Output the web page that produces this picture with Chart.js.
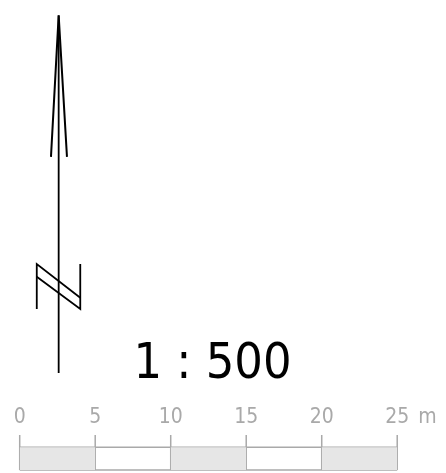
<!DOCTYPE html>
<html>
<head>
<meta charset="utf-8">
<script src="https://cdn.jsdelivr.net/npm/chart.js@4"></script>
<style>
  html, body { margin: 0; padding: 0; background: #fff; }
  #wrap { width: 446px; height: 473px; }
</style>
</head>
<body>
<div id="wrap"><canvas id="map"></canvas></div>
<script>
// scale bar, in metres
const scaleTicks = [0, 5, 10, 15, 20, 25]
const scaleUnit = 'm'
const scaleText = '1 : 500'
const shadedSegments = [[0, 5], [10, 15], [20, 25]]

// north arrow drawn in the same metre grid
const arrowShaft = [{x: 2.58, y: 30.3}, {x: 2.58, y: 6.62}]
const arrowHead = [{x: 2.07, y: 20.93}, {x: 2.58, y: 30.3}, {x: 3.13, y: 20.93}]
const northLeft = [{x: 1.13, y: 10.86}, {x: 1.13, y: 13.84}, {x: 4.01, y: 11.61}]
const northRight = [{x: 1.13, y: 13.0}, {x: 4.01, y: 10.86}, {x: 4.01, y: 13.84}]

const barBottom = 0.2
const barTop = 1.7
const tickTop = 2.52

const grey = '#a9a9a9'

function line(data, width, color) {
    return {data: data, showLine: true, borderColor: color, borderWidth: width,
        pointRadius: 0, fill: false, tension: 0}
}

let datasets = []
shadedSegments.forEach(s => {
    datasets.push({data: [{x: s[0], y: barBottom}, {x: s[1], y: barBottom}],
        showLine: true, borderWidth: 0, borderColor: 'rgba(0,0,0,0)', pointRadius: 0,
        backgroundColor: '#e6e6e6', fill: {value: barTop}})
})
datasets.push(line([{x: 0, y: barBottom}, {x: 25, y: barBottom}], 1.5, grey))
datasets.push(line([{x: 0, y: barTop}, {x: 25, y: barTop}], 1.5, grey))
scaleTicks.forEach(t => {
    datasets.push(line([{x: t, y: tickTop}, {x: t, y: barBottom}], 1.5, grey))
})
datasets.push(line(arrowShaft, 1.8, '#000'))
datasets.push(line(arrowHead, 2, '#000'))
datasets.push(line(northLeft, 1.8, '#000'))
datasets.push(line(northRight, 1.8, '#000'))

const labels = {
    id: 'labels',
    afterDatasetsDraw(chart) {
        const ctx = chart.ctx
        const x = chart.scales.x
        ctx.save()
        ctx.fillStyle = grey
        ctx.font = '21px "DejaVu Sans Condensed", "DejaVu Sans"'
        ctx.textAlign = 'center'
        ctx.textBaseline = 'alphabetic'
        scaleTicks.forEach(t => ctx.fillText(String(t), x.getPixelForValue(t), 423))
        ctx.textAlign = 'left'
        ctx.fillText(scaleUnit, x.getPixelForValue(25) + 21, 423)
        ctx.fillStyle = '#000'
        ctx.font = '50px "DejaVu Sans Condensed", "DejaVu Sans"'
        ctx.textAlign = 'center'
        ctx.fillText(scaleText, 212.5, 378)
        ctx.restore()
    }
}

new Chart(document.getElementById('map'), {
    type: 'scatter',
    data: {datasets: datasets},
    options: {
        responsive: true,
        maintainAspectRatio: false,
        animation: false,
        layout: {padding: 0},
        plugins: {legend: {display: false}, tooltip: {enabled: false}},
        scales: {
            x: {type: 'linear', display: false, min: -1.305, max: 28.23},
            y: {type: 'linear', display: false, min: 0, max: 31.32}
        }
    },
    plugins: [labels]
})
</script>
</body>
</html>
